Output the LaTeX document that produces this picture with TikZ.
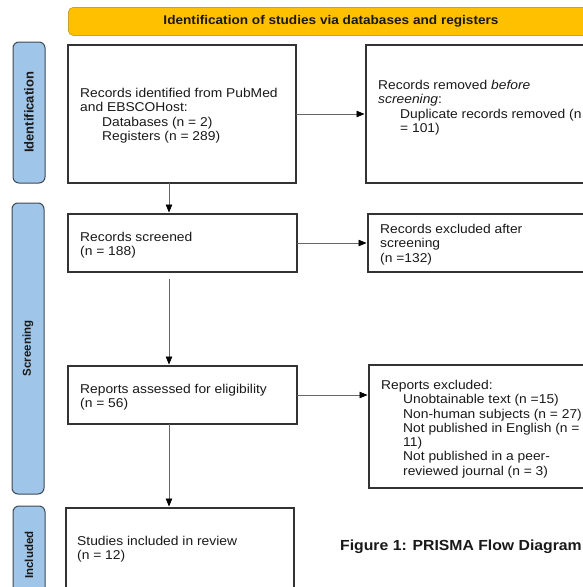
\documentclass[tikz,border=0pt]{standalone}
\usepackage{fontspec}
\setmainfont{Liberation Sans}
\newfontfamily\widefont[FakeStretch=1.08]{Liberation Sans}
\usetikzlibrary{arrows.meta}
\definecolor{bannerfill}{HTML}{FFC000}
\definecolor{bannerdraw}{HTML}{C9A227}
\definecolor{lblfill}{HTML}{9FC5E8}
\definecolor{lbldraw}{HTML}{3F4A56}
\definecolor{boxdraw}{HTML}{333333}
\definecolor{conncol}{HTML}{666666}
\tikzset{
  boxnode/.style={draw=boxdraw, line width=1.2pt, anchor=north west, inner sep=0pt, outer sep=0pt},
  sidelbl/.style={draw=lbldraw, fill=lblfill, rounded corners=6pt, line width=1pt, anchor=north west, inner sep=0pt, outer sep=0pt},
  lbltext/.style={rotate=90, font=\bfseries\fontsize{11.5}{13}\selectfont, text=black!90},
  conn/.style={draw=conncol, line width=0.7pt, -{Triangle[length=8pt,width=6.5pt,color=black]}, shorten >=1.5pt},
  bodytxt/.style={anchor=base west, align=left, inner sep=0pt, font=\widefont\fontsize{12.8}{14.3}\selectfont, text=black!90},
}
\newcommand{\ind}{\hspace*{22pt}}
\begin{document}
\begin{tikzpicture}[x=1pt,y=-1pt]
\useasboundingbox (0,0) rectangle (583,587);
\fill[white] (0,0) rectangle (583,587);

% banner
\node[draw=bannerdraw, fill=bannerfill, rounded corners=5pt, line width=0.8pt, anchor=north west,
      minimum width=526pt, minimum height=28pt, inner sep=0pt] (banner) at (68,7) {};
\node[font=\widefont\bfseries\fontsize{12.6}{14}\selectfont, text=black!90] (bannertext) at (331,21.5)
  {Identification of studies via databases and registers};

% side labels
\node[sidelbl, minimum width=32pt, minimum height=141pt] (lid) at (13,42) {};
\node[lbltext, font=\bfseries\fontsize{13}{15}\selectfont] (lidt) at (lid.center) {Identification};
\node[sidelbl, minimum width=32pt, minimum height=291pt] (lsc) at (12,203) {};
\node[lbltext] (lsct) at (lsc.center) {Screening};
\node[sidelbl, minimum width=32pt, minimum height=100pt] (lin) at (13,506) {};
\node[lbltext] (lint) at (29,555) {Included};

% boxes
\node[boxnode, minimum width=228pt, minimum height=138pt] (b1) at (68,45) {};
\node[boxnode, minimum width=240pt, minimum height=138pt] (b2) at (366,45) {};
\node[boxnode, minimum width=229pt, minimum height=58pt] (scr) at (68,214) {};
\node[boxnode, minimum width=240pt, minimum height=58pt] (exc) at (368,214) {};
\node[boxnode, minimum width=229pt, minimum height=58pt] (ass) at (68,366) {};
\node[boxnode, minimum width=240pt, minimum height=123pt] (rex) at (369,365) {};
\node[boxnode, minimum width=228pt, minimum height=100pt] (stu) at (66,508) {};

% texts (anchor = baseline of the last line)
\node[bodytxt] (t1) at (80,140.3) {Records identified from PubMed\\and EBSCOHost:\\\ind Databases (n = 2)\\\ind Registers (n = 289)};
\node[bodytxt] (t2) at (378,132.3) {Records removed \textit{before}\\\textit{screening}:\\\ind Duplicate records removed (n\\\ind = 101)};
\node[bodytxt] (t3) at (80,255.7) {Records screened\\(n = 188)};
\node[bodytxt] (t4) at (380,262) {Records excluded after\\screening\\(n =132)};
\node[bodytxt] (t5) at (80,407.7) {Reports assessed for eligibility\\(n = 56)};
\node[bodytxt] (t6) at (381,475.2) {Reports excluded:\\\ind Unobtainable text (n =15)\\\ind Non-human subjects (n = 27)\\\ind Not published in English (n =\\\ind 11)\\\ind Not published in a peer-\\\ind reviewed journal (n = 3)};
\node[bodytxt] (t7) at (77,559.7) {Studies included in review\\(n = 12)};

% caption
\node[anchor=base west, inner sep=0pt, font=\widefont\bfseries\fontsize{14.6}{16}\selectfont, text=black!90] (cap) at (340,550) {Figure 1: PRISMA Flow Diagram};

% connectors
\draw[conn] (b1.east) -- (b1.east -| b2.west);
\draw[conn] (scr.east) -- (scr.east -| exc.west);
\draw[conn] (ass.east) -- (ass.east -| rex.west);
\draw[conn] ([xshift=101pt]b1.south west) -- ([xshift=101pt]scr.north west);
\draw[conn] ([xshift=101pt,yshift=-7pt]scr.south west) -- ([xshift=101pt]ass.north west);
\draw[conn] ([xshift=101pt]ass.south west) -- ([xshift=103pt]stu.north west);
\end{tikzpicture}
\end{document}
